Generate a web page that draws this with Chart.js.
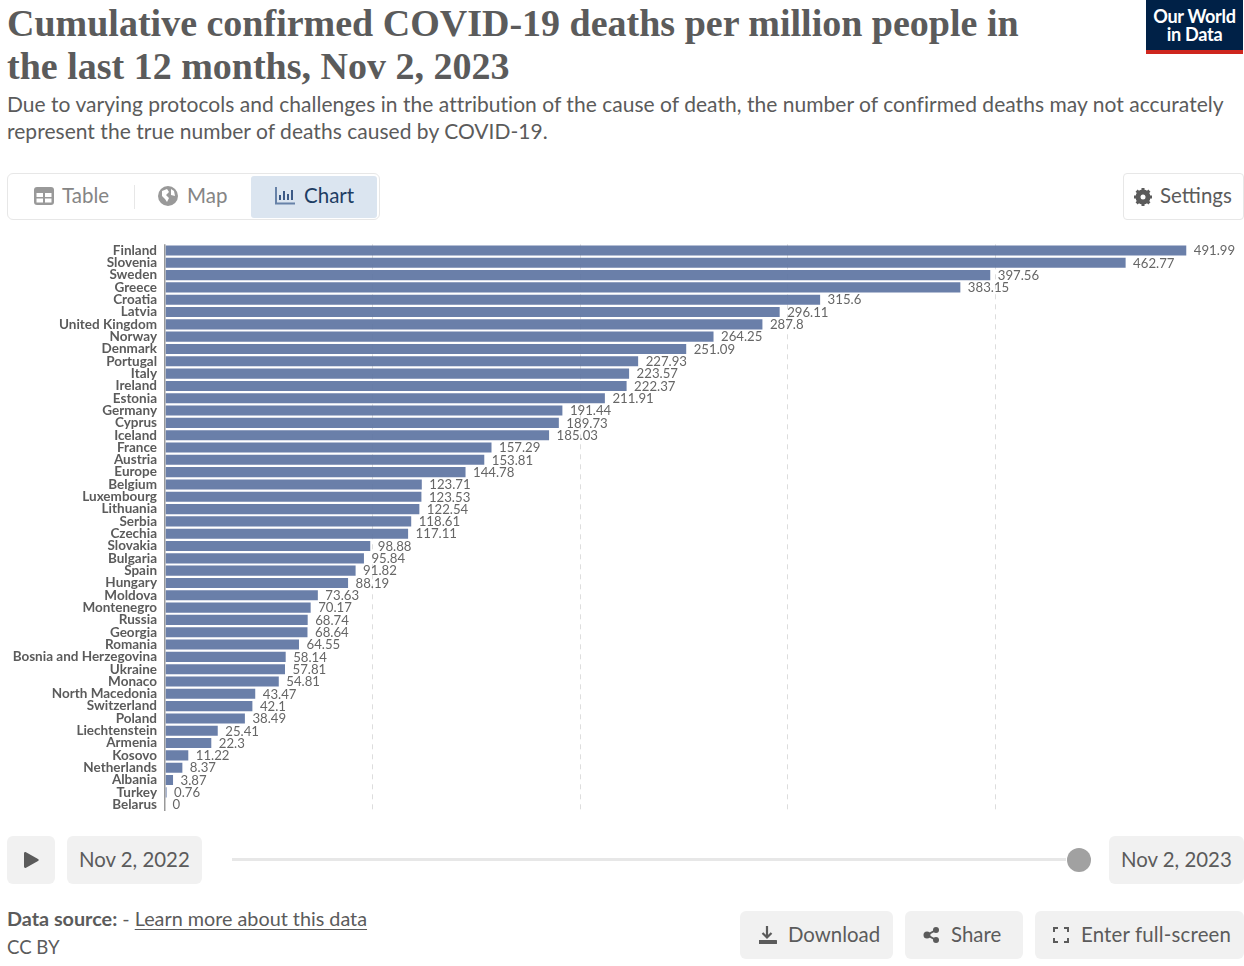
<!DOCTYPE html>
<html><head><meta charset="utf-8">
<script src="https://cdn.jsdelivr.net/npm/chart.js@4"></script>
<style>
html,body{margin:0;padding:0;background:#fff;width:1244px;height:966px;overflow:hidden;font-family:Lato,sans-serif;color:#5b5b5b}
.a{position:absolute;white-space:nowrap}
h1{position:absolute;left:7px;top:2px;margin:0;font:700 38px/43px "Liberation Serif",serif;color:#5b5b5b;white-space:nowrap}
.sub{left:7px;top:90px;font-size:21px;line-height:27px;color:#5b5b5b;letter-spacing:.03px}
.logo{left:1146px;top:0;width:97px;height:54px;background:#002147;color:#fff;text-align:center;font-size:18.1px;line-height:18px;font-weight:700;box-sizing:border-box;padding-top:7px;letter-spacing:-.3px}
.logo i{position:absolute;left:0;right:0;bottom:0;height:4px;background:#ce261e}
.tabs{left:7px;top:173px;width:371px;height:45px;border:1px solid #e7e7e7;border-radius:6px}
.tab{position:absolute;top:183px;font-size:20.5px;line-height:25px;color:#858585}
.btn{position:absolute;background:#f1f1f1;border-radius:6px}
.t{position:absolute;font-size:20.4px;line-height:26px;color:#5b5b5b;white-space:nowrap}
svg{position:absolute}
canvas{position:absolute;left:0;top:240px}
</style></head><body>
<h1>Cumulative confirmed COVID-19 deaths per million people in<br>the last 12 months, Nov 2, 2023</h1>
<div class="a sub">Due to varying protocols and challenges in the attribution of the cause of death, the number of confirmed deaths may not accurately<br>represent the true number of deaths caused by COVID-19.</div>
<div class="a logo">Our World<br>in Data<i></i></div>
<div class="a tabs"></div>
<div class="a" style="left:251px;top:176px;width:126px;height:42px;background:#dbe5f0;border-radius:3px"></div>
<div class="a" style="left:134px;top:185px;width:1px;height:24px;background:#e7e7e7"></div>
<svg style="left:34px;top:187px" width="20" height="18" viewBox="0 0 20 18"><rect width="20" height="18" rx="3" fill="#999"/><rect x="2.5" y="6" width="6.5" height="4" fill="#fff"/><rect x="11" y="6" width="6.5" height="4" fill="#fff"/><rect x="2.5" y="11.5" width="6.5" height="4" fill="#fff"/><rect x="11" y="11.5" width="6.5" height="4" fill="#fff"/></svg>
<div class="tab" style="left:62px">Table</div>
<svg style="left:158px;top:186px" width="20" height="20" viewBox="0 0 20 20"><circle cx="10" cy="10" r="10" fill="#999"/><path d="M4 5l5-2 2 3-3 3 3 3-2 4-2-3-3-3zM13 3l3 2 1 5-4-1z" fill="#fff"/></svg>
<div class="tab" style="left:187px">Map</div>
<svg style="left:275px;top:187px" width="20" height="18" viewBox="0 0 20 18"><path d="M1 0v16.500h19" fill="none" stroke="#6782a8" stroke-width="2"/><path d="M5 8v5M9 4v9M13 7v6M17 3v10" stroke="#3c5a86" stroke-width="2"/></svg>
<div class="tab" style="left:304px;color:#1d3d63">Chart</div>
<div class="a" style="left:1123px;top:173px;width:119px;height:45px;border:1px solid #e7e7e7;border-radius:4px"></div>
<svg style="left:1134px;top:188px" width="18" height="18" viewBox="0 0 18 18"><circle cx="9" cy="9" r="5.500" fill="none" stroke="#5b5b5b" stroke-width="4"/><path d="M9 0v18M0 9h18M2.600 2.600l12.800 12.800M15.400 2.600L2.600 15.400" stroke="#5b5b5b" stroke-width="3"/><circle cx="9" cy="9" r="2.500" fill="#fff"/></svg>
<div class="tab" style="left:1160px;color:#5b5b5b">Settings</div>

<canvas id="c" width="1244" height="580" style="width:1244px;height:580px"></canvas>

<div class="btn" style="left:7px;top:836px;width:48px;height:48px"></div>
<svg style="left:24px;top:852px" width="15" height="16" viewBox="0 0 15 16"><path d="M0 1.500C0 .300 1 -.300 2 .300L14 7c1 .6 1 1.400 0 2L2 15.700C1 16.300 0 15.700 0 14.500z" fill="#5b5b5b"/></svg>
<div class="btn" style="left:67px;top:836px;width:135px;height:48px"></div>
<div class="t" style="left:79px;top:846px">Nov 2, 2022</div>
<div class="a" style="left:232px;top:858px;width:834px;height:3px;background:#e7e7e7"></div>
<div class="a" style="left:1067px;top:848px;width:24px;height:24px;border-radius:50%;background:#a1a1a1"></div>
<div class="btn" style="left:1109px;top:836px;width:135px;height:48px"></div>
<div class="t" style="left:1121px;top:846px">Nov 2, 2023</div>
<div class="a" style="left:7px;top:906px;font-size:19.8px;line-height:25px"><b>Data source:</b> - <span style="text-decoration:underline;text-underline-offset:3px">Learn more about this data</span></div>
<div class="a" style="left:7px;top:935px;font-size:18.6px;line-height:25px">CC BY</div>
<div class="btn" style="left:740px;top:911px;width:153px;height:48px"></div>
<div class="t" style="left:788px;top:921px">Download</div>
<svg style="left:758px;top:925px" width="19" height="20" viewBox="0 0 19 20"><path d="M9 1v11M4.500 8l4.500 4.500L13.500 8" fill="none" stroke="#5b5b5b" stroke-width="2.200"/><path d="M1 15h17a1 1 0 0 1 0 4H1z" fill="#5b5b5b"/></svg>
<div class="btn" style="left:905px;top:911px;width:118px;height:48px"></div>
<div class="t" style="left:951px;top:921px">Share</div>
<svg style="left:923px;top:927px" width="17" height="16" viewBox="0 0 17 16"><path d="M13 3L4 8l9 5" fill="none" stroke="#5b5b5b" stroke-width="2"/><circle cx="13" cy="3" r="3" fill="#5b5b5b"/><circle cx="4" cy="8" r="3.500" fill="#5b5b5b"/><circle cx="13" cy="13" r="3" fill="#5b5b5b"/></svg>
<div class="btn" style="left:1035px;top:911px;width:209px;height:48px"></div>
<div class="t" style="left:1081px;top:921px;letter-spacing:.17px">Enter full-screen</div>
<svg style="left:1053px;top:927px" width="16" height="16" viewBox="0 0 16 16"><path d="M1 5V1h4M11 1h4v4M15 11v4h-4M5 15H1v-4" fill="none" stroke="#5b5b5b" stroke-width="2"/></svg>

<script>
const categories = ["Finland","Slovenia","Sweden","Greece","Croatia","Latvia","United Kingdom","Norway","Denmark","Portugal","Italy","Ireland","Estonia","Germany","Cyprus","Iceland","France","Austria","Europe","Belgium","Luxembourg","Lithuania","Serbia","Czechia","Slovakia","Bulgaria","Spain","Hungary","Moldova","Montenegro","Russia","Georgia","Romania","Bosnia and Herzegovina","Ukraine","Monaco","North Macedonia","Switzerland","Poland","Liechtenstein","Armenia","Kosovo","Netherlands","Albania","Turkey","Belarus"];
const deathsPerMillion = [491.99,462.77,397.56,383.15,315.6,296.11,287.8,264.25,251.09,227.93,223.57,222.37,211.91,191.44,189.73,185.03,157.29,153.81,144.78,123.71,123.53,122.54,118.61,117.11,98.88,95.84,91.82,88.19,73.63,70.17,68.74,68.64,64.55,58.14,57.81,54.81,43.47,42.1,38.49,25.41,22.3,11.22,8.37,3.87,0.76,0];
const xTicks = [0,100,200,300,400];
const xMax = 519.8;

const valueLabels = {
  id:'valueLabels',
  afterDatasetsDraw(chart){
    const {ctx} = chart, meta = chart.getDatasetMeta(0);
    ctx.save();
    ctx.font = '400 13.2px Lato';
    ctx.fillStyle = '#666';
    ctx.textAlign = 'left';
    ctx.textBaseline = 'middle';
    meta.data.forEach((bar,i)=>{
      ctx.fillText(String(deathsPerMillion[i]), bar.x + 7.5, bar.y + .5);
    });
    ctx.restore();
  }
};

new Chart(document.getElementById('c'),{
  type:'bar',
  data:{labels:categories,datasets:[{data:deathsPerMillion,backgroundColor:'rgba(95,117,163,.93)',barPercentage:.82,categoryPercentage:1,borderWidth:0}]},
  plugins:[valueLabels],
  options:{
    indexAxis:'y',responsive:false,animation:false,devicePixelRatio:1,
    layout:{autoPadding:false,padding:{top:4.3,bottom:9.2,left:0,right:0}},
    plugins:{legend:{display:false},tooltip:{enabled:false},title:{display:false}},
    scales:{
      x:{type:'linear',min:0,max:xMax,
        afterFit(s){s.height=0;s.paddingLeft=0;s.paddingRight=0},
        afterBuildTicks(s){s.ticks=xTicks.map(v=>({value:v}))},
        ticks:{display:false},
        border:{display:false,dash:c=>c.tick.value===0?[]:[5,5]},
        grid:{drawTicks:false,
          color:c=>c.tick.value===0?'#999':'#ddd',
          lineWidth:c=>c.tick.value===0?1.5:1}
      },
      y:{type:'category',offset:true,
        afterFit(s){s.width=165;s.paddingTop=0;s.paddingBottom=0},
        grid:{display:false,drawTicks:false},border:{display:false},
        ticks:{autoSkip:false,padding:8,color:'#5b5b5b',font:{family:'Lato',size:13.5,weight:'700'}}
      }
    }
  }
});
</script>
</body></html>
